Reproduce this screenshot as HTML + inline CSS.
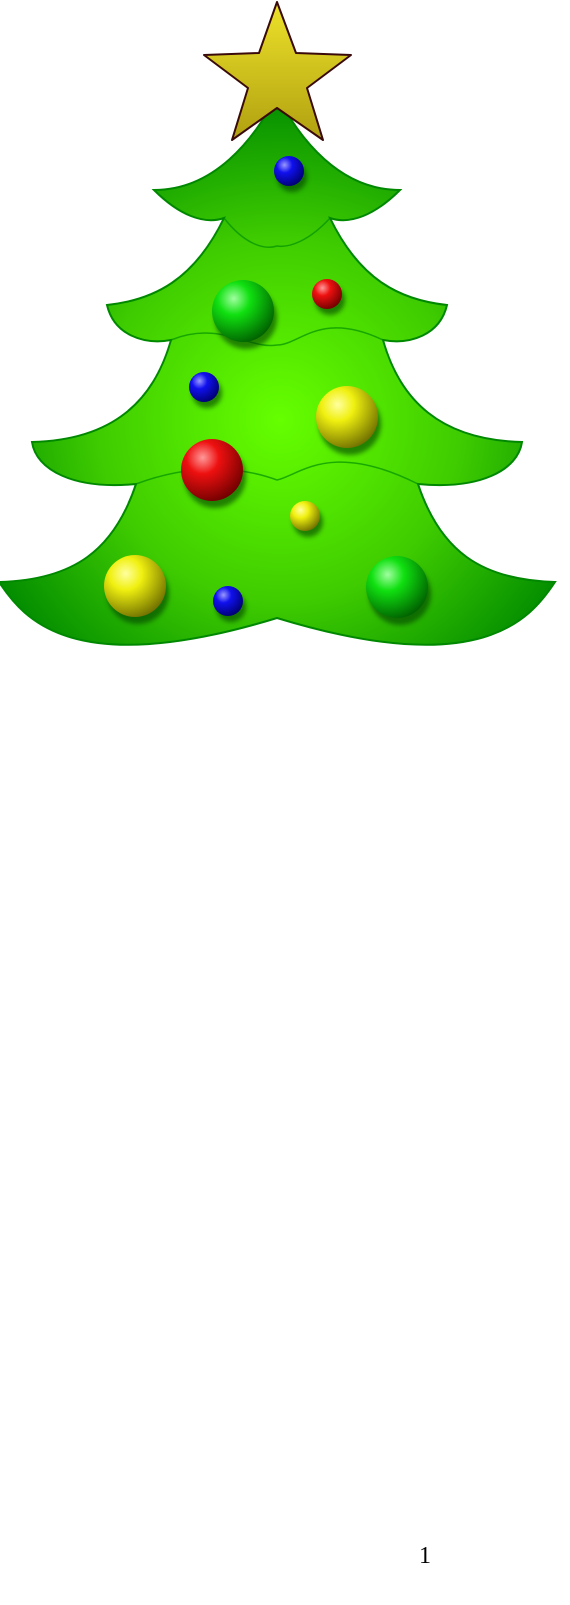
<!DOCTYPE html>
<html><head><meta charset="utf-8"><style>
html,body{margin:0;padding:0;background:#fff;width:570px;height:1605px;overflow:hidden}
svg{position:absolute;left:0;top:0}
.pn{position:absolute;left:419px;top:1543px;font-family:"Liberation Serif",serif;font-size:24px;color:#000}
</style></head><body>
<svg width="570" height="1605" viewBox="0 0 570 1605">
<defs>
<radialGradient id="tg" cx="280" cy="420" r="330" gradientUnits="userSpaceOnUse">
<stop offset="0" stop-color="#66ff00"/><stop offset="0.55" stop-color="#3fcc00"/><stop offset="1" stop-color="#008a00"/></radialGradient>
<linearGradient id="sg" x1="0" y1="0" x2="0" y2="1"><stop offset="0" stop-color="#eee22a"/><stop offset="1" stop-color="#b0a010"/></linearGradient>
<radialGradient id="gb" cx="0.35" cy="0.3" r="0.75"><stop offset="0" stop-color="#9999ff"/><stop offset="0.35" stop-color="#1010ee"/><stop offset="1" stop-color="#000070"/></radialGradient>
<radialGradient id="gr" cx="0.35" cy="0.3" r="0.75"><stop offset="0" stop-color="#ff9999"/><stop offset="0.35" stop-color="#ee1010"/><stop offset="1" stop-color="#700000"/></radialGradient>
<radialGradient id="gy" cx="0.35" cy="0.3" r="0.75"><stop offset="0" stop-color="#ffffa0"/><stop offset="0.35" stop-color="#f0f010"/><stop offset="1" stop-color="#707000"/></radialGradient>
<radialGradient id="gg" cx="0.35" cy="0.3" r="0.75"><stop offset="0" stop-color="#a0ffa0"/><stop offset="0.35" stop-color="#10e010"/><stop offset="1" stop-color="#006000"/></radialGradient>
<filter id="bl"><feGaussianBlur stdDeviation="2.5"/></filter>
</defs>
<path fill="url(#tg)" stroke="#008800" stroke-width="2"
d="M277 95 C300 140 340 190 400 190 C375 215 350 225 330 218 C360 280 400 300 447 305 C440 335 410 345 383 340 C400 400 440 440 522 442 C518 470 480 490 418 484 C440 550 480 580 555 582 C530 620 480 680 277 618 C74 680 24 620 -1 582 C74 580 114 550 136 484 C74 490 36 470 32 442 C114 440 154 400 171 340 C144 345 114 335 107 305 C154 300 194 280 224 218 C204 225 179 215 154 190 C214 190 254 140 277 95 Z"/>
<g fill="none" stroke="#009000" stroke-width="1.5" opacity="0.7">
<path d="M224 218 C245 245 265 250 277 246 C290 248 310 240 330 218"/>
<path d="M171 340 C220 320 250 350 277 345 C300 345 320 310 383 340"/>
<path d="M136 484 C200 460 250 470 277 480 C300 475 330 440 418 484"/>
</g>
<g>
<g filter="url(#bl)" fill="#004000" opacity="0.6">
<circle cx="292" cy="177" r="15"/><circle cx="246" cy="318" r="31"/><circle cx="330" cy="300" r="15"/><circle cx="207" cy="393" r="15"/><circle cx="350" cy="424" r="31"/><circle cx="215" cy="477" r="31"/><circle cx="308" cy="522" r="15"/><circle cx="138" cy="593" r="31"/><circle cx="231" cy="607" r="15"/><circle cx="400" cy="594" r="31"/>
</g>
<circle cx="289" cy="171" r="15" fill="url(#gb)"/>
<circle cx="243" cy="311" r="31" fill="url(#gg)"/>
<circle cx="327" cy="294" r="15" fill="url(#gr)"/>
<circle cx="204" cy="387" r="15" fill="url(#gb)"/>
<circle cx="347" cy="417" r="31" fill="url(#gy)"/>
<circle cx="212" cy="470" r="31" fill="url(#gr)"/>
<circle cx="305" cy="516" r="15" fill="url(#gy)"/>
<circle cx="135" cy="586" r="31" fill="url(#gy)"/>
<circle cx="228" cy="601" r="15" fill="url(#gb)"/>
<circle cx="397" cy="587" r="31" fill="url(#gg)"/>
</g>
<path fill="url(#sg)" stroke="#3a0a0a" stroke-width="2" stroke-linejoin="round"
d="M277 2 L296 53 L351 55 L307 88 L323 140 L277 108 L232 140 L248 88 L204 55 L259 53 Z"/>
</svg>
<div class="pn">1</div>
</body></html>
